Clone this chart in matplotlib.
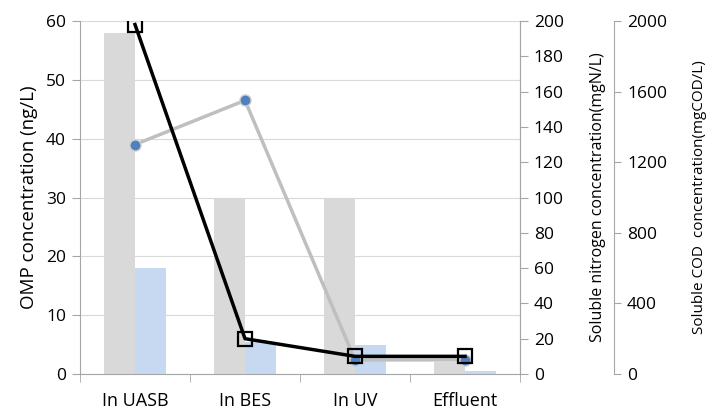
import numpy as np
import matplotlib
matplotlib.use("Agg")
import matplotlib.pyplot as plt

plt.rcParams['font.family'] = ['Open Sans', 'DejaVu Sans']

stages = ["In UASB", "In BES", "In UV", "Effluent"]
omp_a = [58, 30, 30, 2]          # grey bars, ng/L
omp_b = [18, 5.5, 5, 0.5]        # light blue bars, ng/L
nitrogen = [130, 155, 8, 8]      # mgN/L
cod = [1980, 200, 100, 100]      # mgCOD/L

x = np.arange(len(stages))
w = 0.28
axcol = '#a6a6a6'

fig = plt.figure(figsize=(7.08, 4.12), dpi=100)
ax = fig.add_axes([80/708, 38/412, 440/708, 353/412])

ax.bar(x - w/2, omp_a, w, color='#d9d9d9', zorder=2)
ax.bar(x + w/2, omp_b, w, color='#c6d9f1', zorder=2)
ax.set_xlim(-0.5, 3.5)
ax.set_ylim(0, 60)
ax.set_yticks(range(0, 61, 10))
ax.yaxis.grid(True, color='#d9d9d9', lw=0.8, zorder=0)
ax.set_xticks(x)
ax.set_xticklabels(stages, fontsize=13)
ax.set_xticks(np.arange(-0.5, 3.6, 1), minor=True)
ax.tick_params(axis='x', which='major', length=0, pad=13)
ax.tick_params(axis='x', which='minor', length=6, color=axcol)
ax.tick_params(axis='y', length=6, color=axcol, labelsize=12.5, pad=4)
ax.set_ylabel("OMP concentration (ng/L)", fontsize=13.5, labelpad=6)
ax.spines['top'].set_visible(False)
for s in ['left', 'bottom', 'right']:
    ax.spines[s].set_color(axcol)

# nitrogen axis
axn = ax.twinx()
axn.plot(x, nitrogen, color='#bfbfbf', lw=2.5, marker='o', ms=8,
         mfc='#4f81bd', mec='#d0d0d0', mew=1, zorder=3)
axn.set_ylim(0, 200)
axn.set_yticks(range(0, 201, 20))
axn.tick_params(axis='y', length=6, color=axcol, labelsize=12.5, pad=4)
axn.set_ylabel("Soluble nitrogen concentration(mgN/L)", fontsize=11.5)
axn.yaxis.set_label_coords(1.159, 0.5)
for s in ['top', 'left', 'bottom']:
    axn.spines[s].set_visible(False)
axn.spines['right'].set_color(axcol)

# COD axis
axc = ax.twinx()
axc.spines['right'].set_position(('outward', 68))
axc.plot(x, cod, color='black', lw=2.5, marker='s', ms=10,
         mfc='none', mec='black', mew=1.6, zorder=4)
axc.set_ylim(0, 2000)
axc.set_yticks(range(0, 2001, 400))
axc.tick_params(axis='y', length=5, color=axcol, labelsize=12.5, pad=4)
axc.set_ylabel("Soluble COD  concentration(mgCOD/L)", fontsize=11)
axc.yaxis.set_label_coords(1.392, 0.5)
for s in ['top', 'left', 'bottom']:
    axc.spines[s].set_visible(False)
axc.spines['right'].set_color(axcol)

fig.savefig("out.png", dpi=100)
